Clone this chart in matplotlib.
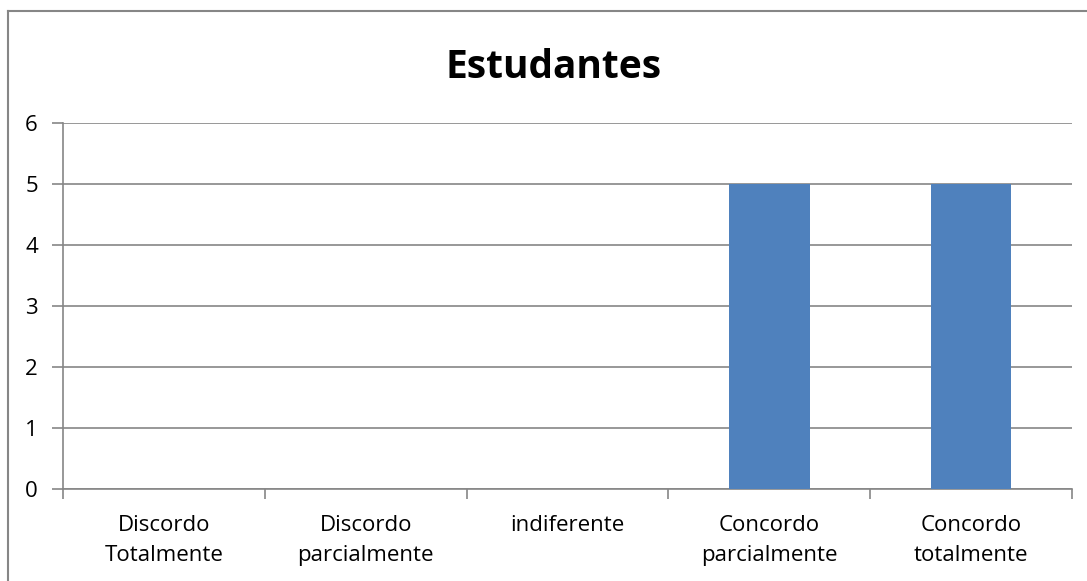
import matplotlib
matplotlib.use("Agg")
import matplotlib.pyplot as plt
from matplotlib.lines import Line2D

# Data
categories = ["Discordo\nTotalmente", "Discordo\nparcialmente", "indiferente",
              "Concordo\nparcialmente", "Concordo\ntotalmente"]
values = [0, 0, 0, 5, 5]
y_ticks = [0, 1, 2, 3, 4, 5, 6]

BAR_COLOR = "#4F81BD"
GRID = "#868686"

plt.rcParams['font.family'] = ['Open Sans', 'DejaVu Sans']

fig = plt.figure(figsize=(10.87, 5.81), dpi=100)
ax = fig.add_axes([63 / 1087, 1 - 489 / 581, (1072 - 63) / 1087, (489 - 123) / 581])

x = list(range(len(categories)))
ax.bar(x, values, width=0.4, color=BAR_COLOR, zorder=3)

ax.set_xlim(-0.5, len(categories) - 0.5)
ax.set_ylim(0, 6)
ax.set_yticks(y_ticks)
ax.set_yticklabels([str(v) for v in y_ticks], fontsize=16)
ax.yaxis.grid(True, color=GRID, linewidth=1.2, zorder=0)

# category boundaries carry the tick marks, labels sit between them
ax.set_xticks([i - 0.5 for i in range(len(categories) + 1)])
ax.set_xticklabels([])
ax.set_xticks(x, minor=True)
ax.set_xticklabels(categories, minor=True, fontsize=16, linespacing=1.55)
ax.tick_params(axis='x', which='minor', length=0, pad=19)
ax.tick_params(axis='x', which='major', length=7, color=GRID, width=1.2)
ax.tick_params(axis='y', length=8, color=GRID, width=1.2, pad=10)

for side in ['top', 'right']:
    ax.spines[side].set_visible(False)
for side in ['left', 'bottom']:
    ax.spines[side].set_color(GRID)
    ax.spines[side].set_linewidth(1.2)

fig.text(0.509, 1 - 68 / 581, "Estudantes", ha='center', va='center',
         fontsize=28, fontweight='bold')

# outer chart border (only top and left visible in the crop)
fig.add_artist(Line2D([8 / 1087, 1], [1 - 11 / 581, 1 - 11 / 581],
                      transform=fig.transFigure, color=GRID, linewidth=1.5))
fig.add_artist(Line2D([8 / 1087, 8 / 1087], [0, 1 - 11 / 581],
                      transform=fig.transFigure, color=GRID, linewidth=1.5))

fig.savefig("out.png", dpi=100)
